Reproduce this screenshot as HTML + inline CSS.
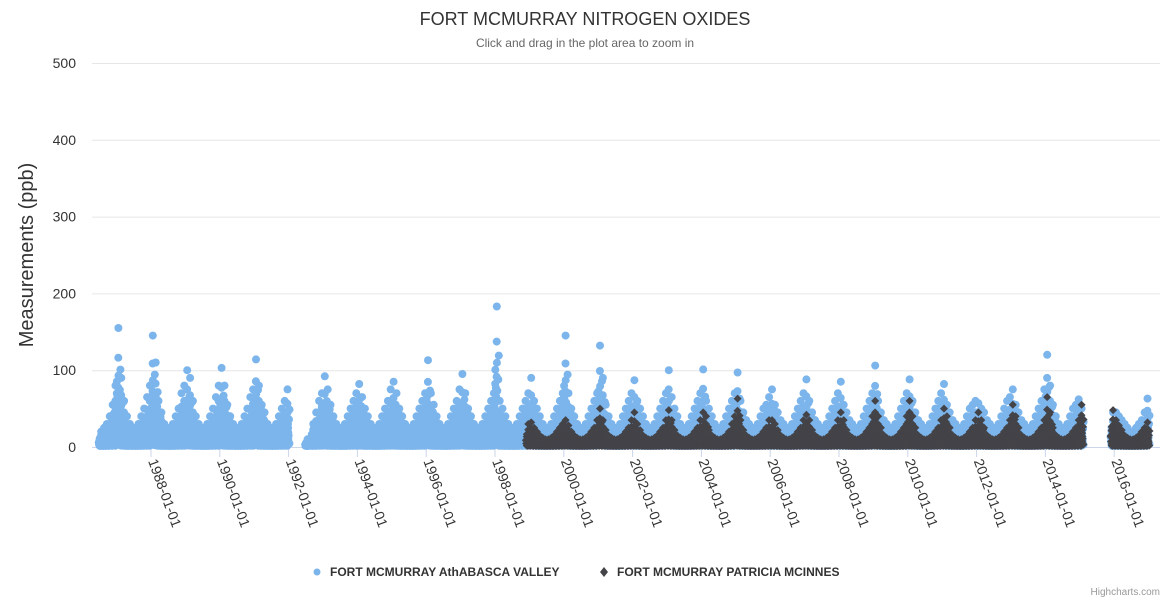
<!DOCTYPE html>
<html><head><meta charset="utf-8"><style>
body{margin:0;background:#fff;font-family:"Liberation Sans",sans-serif}
svg text{font-family:"Liberation Sans",sans-serif}
</style></head><body>
<svg id="c" width="1170" height="600" xmlns="http://www.w3.org/2000/svg">
<text x="585" y="25" text-anchor="middle" font-size="18" fill="#333">FORT MCMURRAY NITROGEN OXIDES</text>
<text x="585" y="47" text-anchor="middle" font-size="12" fill="#666">Click and drag in the plot area to zoom in</text>
<text transform="translate(33,255) rotate(-90)" text-anchor="middle" font-size="20" fill="#333">Measurements (ppb)</text>
<g id="grid"></g><g id="ylab"></g><g id="xax"></g>
<g id="plot"></g>
<g>
<g><circle cx="317" cy="572" r="3.5" fill="#7cb5ec"/><text x="330" y="576" font-size="12" font-weight="bold" fill="#333">FORT MCMURRAY AthABASCA VALLEY</text></g>
<g><path d="M604 567 L608 572 L604 577 L600 572Z" fill="#434348"/><text x="617" y="576" font-size="12" font-weight="bold" fill="#333">FORT MCMURRAY PATRICIA MCINNES</text></g>
</g>
<text x="1160" y="595" text-anchor="end" font-size="10" fill="#999">Highcharts.com</text>
</svg>
<script>
const yTicks=[0,100,200,300,400,500];
const xTickYears=[1988,1990,1992,1994,1996,1998,2000,2002,2004,2006,2008,2010,2012,2014,2016];
const startYear=1986;
const _=null;
// monthly max values, series AthABASCA VALLEY (Jan..Dec per year)
const athabascaMax=[
[_,_,_,_,_,_,20,25,30,40,55,80],
[155,90,60,40,30,25,25,30,40,50,65,80],
[145,110,60,45,30,25,25,30,40,50,70,80],
[100,90,60,40,30,25,25,30,40,50,65,80],
[103,80,55,40,30,25,25,30,40,50,65,75],
[114,80,55,45,30,25,25,30,40,50,60,75],
[_,_,_,_,_,_,10,_,30,45,60,70],
[92,75,55,40,30,25,25,30,40,50,60,70],
[82,65,50,40,30,25,25,30,40,50,60,75],
[85,70,50,40,30,25,25,30,40,50,60,70],
[113,70,55,40,30,25,25,30,40,50,60,75],
[95,70,50,40,30,25,25,30,40,50,60,70],
[183,60,50,40,30,25,25,30,40,50,60,70],
[90,60,50,40,30,25,25,30,40,50,60,70],
[145,70,50,40,30,25,25,30,40,50,60,70],
[132,90,55,40,30,25,25,30,40,50,60,70],
[87,60,50,40,30,25,25,30,40,50,60,70],
[100,65,50,40,30,25,25,30,40,50,60,70],
[101,60,50,40,30,25,25,30,40,50,60,70],
[97,60,45,35,30,25,25,30,40,50,55,65],
[75,55,45,35,30,25,25,30,40,50,60,70],
[88,60,45,35,30,25,25,30,40,50,60,70],
[85,55,45,35,30,25,25,30,40,50,60,70],
[106,60,45,35,30,25,25,30,40,50,60,70],
[88,60,45,35,30,25,25,30,40,50,60,70],
[82,55,45,35,30,25,25,30,40,50,55,60],
[57,50,45,35,30,25,25,30,40,50,60,65],
[75,55,45,35,30,25,25,30,40,50,60,75],
[120,80,55,40,30,25,25,30,40,50,55,62],
[50,_,_,_,_,_,_,_,_,_,_,45],
[45,40,35,30,25,20,20,25,30,35,45,63]];
// monthly max values, series PATRICIA MCINNES
const patriciaMax=[
[_,_,_,_,_,_,_,_,_,_,_,_],
[_,_,_,_,_,_,_,_,_,_,_,_],
[_,_,_,_,_,_,_,_,_,_,_,_],
[_,_,_,_,_,_,_,_,_,_,_,_],
[_,_,_,_,_,_,_,_,_,_,_,_],
[_,_,_,_,_,_,_,_,_,_,_,_],
[_,_,_,_,_,_,_,_,_,_,_,_],
[_,_,_,_,_,_,_,_,_,_,_,_],
[_,_,_,_,_,_,_,_,_,_,_,_],
[_,_,_,_,_,_,_,_,_,_,_,_],
[_,_,_,_,_,_,_,_,_,_,_,_],
[_,_,_,_,_,_,_,_,_,_,_,_],
[_,_,_,_,_,_,_,_,_,_,_,30],
[32,25,20,15,12,10,10,12,15,20,25,30],
[35,28,20,15,12,10,10,12,15,20,25,35],
[50,35,22,15,12,10,10,12,15,20,25,35],
[45,30,22,15,12,10,10,12,15,20,25,35],
[48,35,22,15,12,10,10,12,15,20,25,35],
[45,40,22,15,12,10,10,12,15,20,30,40],
[63,35,22,15,12,10,10,12,15,20,25,35],
[35,30,22,15,12,10,10,12,15,20,25,35],
[42,35,22,15,12,10,10,12,15,20,25,35],
[45,35,22,15,12,10,10,12,15,20,25,40],
[60,40,25,15,12,10,10,12,15,20,25,40],
[60,40,25,15,12,10,10,12,15,20,25,35],
[50,40,25,15,12,10,10,12,15,20,25,35],
[45,35,25,15,12,10,10,12,15,20,25,35],
[55,40,25,15,12,10,10,12,15,20,25,35],
[65,45,25,15,12,10,10,12,15,20,25,35],
[55,_,_,_,_,_,_,_,_,_,_,48],
[35,28,22,15,12,10,10,12,15,20,25,32]];
const fracs=[0.04,0.3,0.02,0.45,0.07,0.28,0.12,0.55,0.4,0.15,0.35,0.6,0.08,0.33,1.0,0.03,0.2,0.5,0.09,0.42,0.14,0.75,0.06,0.36,0.25,0.48,0.18,0.65];
const jit=[0.3,-0.8,1.2,-0.2,0.9,-1.1,0.5,-0.5,1.4,-1.3,0.1,0.7,-0.9,1.0];

const NS='http://www.w3.org/2000/svg';
const L=92,R=1160,Y0=447,Y500=63;
const yS=v=>Y0-(v/500)*(Y0-Y500);
const xS=t=>151+(t-1988)*34.4;
function mk(tag,attrs,parent){const e=document.createElementNS(NS,tag);for(const k in attrs)e.setAttribute(k,attrs[k]);parent.appendChild(e);return e;}
const grid=document.getElementById('grid'),ylab=document.getElementById('ylab'),xax=document.getElementById('xax'),plot=document.getElementById('plot');
yTicks.forEach(v=>{
  const g=mk('line',{x1:L,x2:R,y1:yS(v)+0.5,y2:yS(v)+0.5,stroke:v===0?'#ccd6eb':'#e6e6e6','stroke-width':1},grid);
  
  
  const t=mk('text',{x:76,y:yS(v)+5,'text-anchor':'end','font-size':14,fill:'#333'},ylab);
  t.textContent=v;
  
  
});
xTickYears.forEach(yr=>{
  const x=xS(yr);
  const tk=mk('line',{x1:x,x2:x,y1:Y0,y2:Y0+10,stroke:'#ccd6eb'},xax);
  
  
  const t=mk('text',{x:0,y:0,'font-size':14,fill:'#333',transform:`translate(${x-3},${Y0+14}) rotate(70)`},xax);
  t.textContent=yr+'-01-01';
  
  
});
function drawSeries(arr,color,shape,name){
  const g=mk('g',{},plot);
  
  
  arr.forEach((row,yi)=>row.forEach((M,mi)=>{
    if(M===null)return;
    const n=fracs.length;
    for(let k=0;k<n;k++){
      const t=startYear+yi+(mi+(k+0.5)/n)/12;
      const v=Math.max(1.5,M*fracs[k]);
      const x=xS(t)+jit[k%jit.length],y=yS(v);
      let p;
      if(shape==='c')p=mk('circle',{cx:x.toFixed(1),cy:y.toFixed(1),r:4,fill:color},g);
      else p=mk('path',{d:`M${x.toFixed(1)} ${(y-4).toFixed(1)}l4 4l-4 4l-4 -4z`,fill:color},g);
      
      
    }
  }));
}
drawSeries(athabascaMax,'#7cb5ec','c','series-athabasca-valley');
drawSeries(patriciaMax,'#434348','d','series-patricia-mcinnes');
</script>
</body></html>
